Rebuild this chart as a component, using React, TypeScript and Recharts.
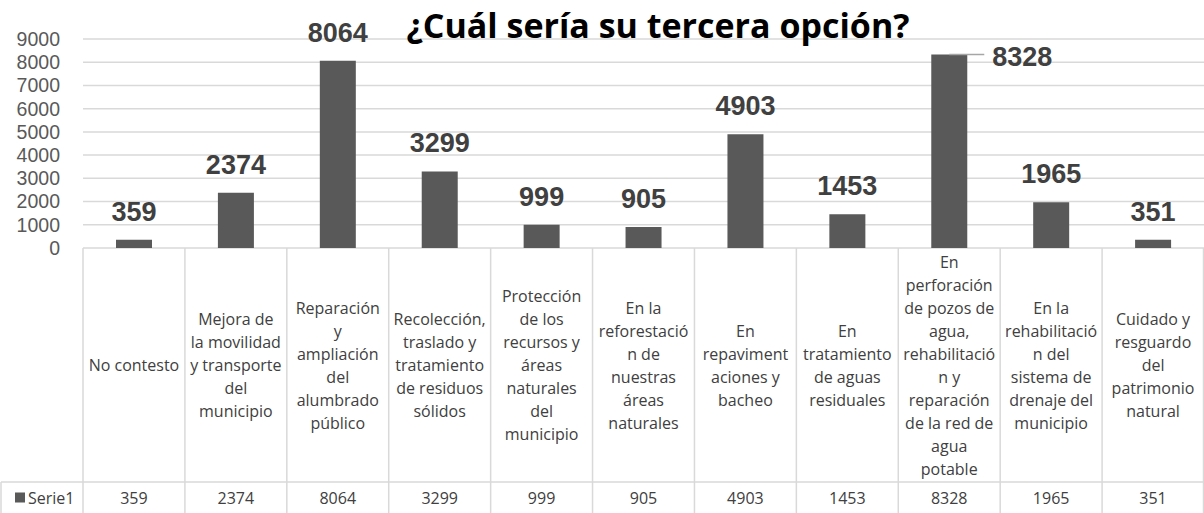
import React from "react";
import {
  Bar,
  BarChart,
  CartesianGrid,
  LabelList,
  XAxis,
  YAxis,
} from "recharts";

const title = "¿Cuál sería su tercera opción?";
const seriesName = "Serie1";

// category names, with the line breaks used in the data table
const categories = [
  "No contesto",
  "Mejora de\nla movilidad\ny transporte\ndel\nmunicipio",
  "Reparación\ny\nampliación\ndel\nalumbrado\npúblico",
  "Recolección,\ntraslado y\ntratamiento\nde residuos\nsólidos",
  "Protección\nde los\nrecursos y\náreas\nnaturales\ndel\nmunicipio",
  "En la\nreforestació\nn de\nnuestras\náreas\nnaturales",
  "En\nrepaviment\naciones y\nbacheo",
  "En\ntratamiento\nde aguas\nresiduales",
  "En\nperforación\nde pozos de\nagua,\nrehabilitació\nn y\nreparación\nde la red de\nagua\npotable",
  "En la\nrehabilitació\nn del\nsistema de\ndrenaje del\nmunicipio",
  "Cuidado y\nresguardo\ndel\npatrimonio\nnatural",
];

const values = [359, 2374, 8064, 3299, 999, 905, 4903, 1453, 8328, 1965, 351];

const yTicks = [0, 1000, 2000, 3000, 4000, 5000, 6000, 7000, 8000, 9000];

// label that would hit the title gets pushed to the side
const SIDE_LABEL_INDEX = 8;

const data = categories.map((name, i) => ({ name, value: values[i] }));

const W = 1204;
const H = 513;
const PLOT_LEFT = 83;
const PLOT_TOP = 39;
const AXIS_H = 265;
const CELL_W = (W - PLOT_LEFT) / categories.length;
const ROW_H = 234; // category row height
const LINE_H = 23;
const BORDER = "#d9d9d9";
const TEXT = "#404040";
const BAR = "#595959";

function TableTick(props: any) {
  const { x, y, payload, index } = props;
  const lines: string[] = String(payload.value).split("\n");
  const left = x - CELL_W / 2;
  const right = x + CELL_W / 2;
  const midY = y + ROW_H / 2;
  const firstY = midY - ((lines.length - 1) * LINE_H) / 2;
  const valY = y + ROW_H + (H - (y + ROW_H)) / 2;
  return (
    <g>
      <line x1={left} y1={y} x2={left} y2={H} stroke={BORDER} strokeWidth={1.5} />
      {index === categories.length - 1 && (
        <line x1={right - 0.5} y1={y} x2={right - 0.5} y2={H} stroke={BORDER} strokeWidth={1.5} />
      )}
      <line x1={left} y1={y + ROW_H} x2={right} y2={y + ROW_H} stroke={BORDER} strokeWidth={1.5} />
      {lines.map((ln, i) => (
        <text
          key={i}
          x={x}
          y={firstY + i * LINE_H}
          textAnchor="middle"
          dominantBaseline="central"
          fontFamily="'Open Sans', sans-serif"
          fontSize={16}
          fill={TEXT}
        >
          {ln}
        </text>
      ))}
      <text
        x={x}
        y={valY}
        textAnchor="middle"
        dominantBaseline="central"
        fontFamily="'Open Sans', sans-serif"
        fontSize={16}
        fill={TEXT}
      >
        {values[index]}
      </text>
      {index === 0 && (
        <g>
          {/* series header cell */}
          <line x1={1} y1={y + ROW_H} x2={left} y2={y + ROW_H} stroke={BORDER} strokeWidth={1.5} />
          <line x1={1} y1={y + ROW_H} x2={1} y2={H} stroke={BORDER} strokeWidth={1.5} />
          <rect x={15} y={valY - 5} width={10} height={10} fill={BAR} />
          <text
            x={28}
            y={valY}
            dominantBaseline="central"
            fontFamily="'Open Sans', sans-serif"
            fontSize={16}
            fill={TEXT}
          >
            {seriesName}
          </text>
        </g>
      )}
    </g>
  );
}

function ValueLabel(props: any) {
  const { x, y, width, value, index } = props;
  const cx = x + width / 2;
  const style = {
    fontFamily: "'Liberation Sans', Arial, sans-serif",
    fontWeight: 700,
    fontSize: 27,
    fill: TEXT,
  };
  if (index === SIDE_LABEL_INDEX) {
    return (
      <g>
        <line x1={cx} y1={y} x2={cx + 35} y2={y} stroke="#a6a6a6" strokeWidth={1.5} />
        <text x={cx + 43} y={y + 2} dominantBaseline="central" style={style}>
          {value}
        </text>
      </g>
    );
  }
  return (
    <text x={cx} y={y - 28} textAnchor="middle" dominantBaseline="central" style={style}>
      {value}
    </text>
  );
}

export default function App() {
  return (
    <div style={{ position: "absolute", left: 0, top: 0, width: W, height: H, background: "#fff" }}>
      <BarChart
        width={W}
        height={H}
        data={data}
        margin={{ top: PLOT_TOP, right: 0, bottom: 0, left: 0 }}
      >
        <text
          x={658}
          y={25}
          textAnchor="middle"
          dominantBaseline="central"
          fontFamily="'Open Sans', sans-serif"
          fontWeight={700}
          fontSize={34}
          fill="#000"
        >
          {title}
        </text>
        <CartesianGrid vertical={false} stroke={BORDER} strokeWidth={1.5} />
        <XAxis
          dataKey="name"
          height={AXIS_H}
          interval={0}
          axisLine={false}
          tickLine={false}
          tickSize={0}
          tickMargin={0}
          tick={<TableTick />}
        />
        <YAxis
          width={PLOT_LEFT}
          domain={[0, 9000]}
          ticks={yTicks}
          interval={0}
          axisLine={false}
          tickLine={false}
          tickSize={0}
          tickMargin={23}
          tick={{ fill: "#595959", fontSize: 19.5, fontFamily: "'Liberation Sans', Arial, sans-serif" }}
        />
        <Bar dataKey="value" fill={BAR} barSize={36} isAnimationActive={false}>
          <LabelList dataKey="value" content={<ValueLabel />} />
        </Bar>
      </BarChart>
    </div>
  );
}
